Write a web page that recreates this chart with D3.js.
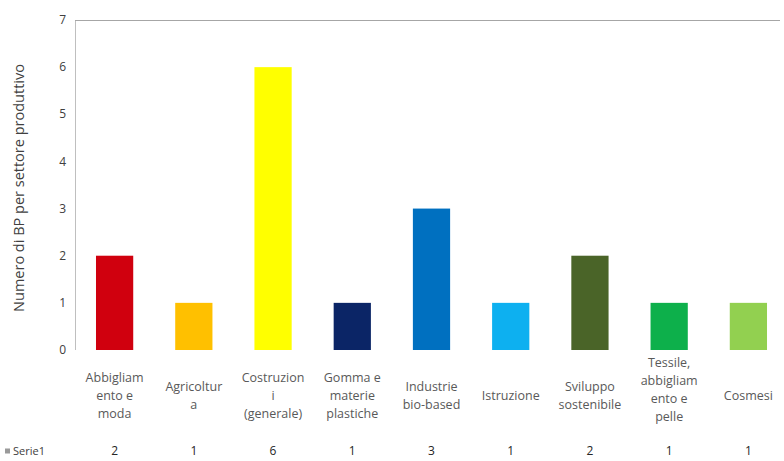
<!DOCTYPE html>
<html><head><meta charset="utf-8">
<script src="https://cdn.jsdelivr.net/npm/d3@7"></script>
<style>body{margin:0;background:#fff}svg{display:block}text{font-family:"Open Sans","Liberation Sans",sans-serif}</style>
</head><body>
<svg id="c" width="784" height="461"></svg>
<script>
const categories = [
  ["Abbigliam","ento e","moda"],
  ["Agricoltur","a"],
  ["Costruzion","i","(generale)"],
  ["Gomma e","materie","plastiche"],
  ["Industrie","bio-based"],
  ["Istruzione"],
  ["Sviluppo","sostenibile"],
  ["Tessile,","abbigliam","ento e","pelle"],
  ["Cosmesi"]
];
const values = [2, 1, 6, 1, 3, 1, 2, 1, 1];
const colors = ["#D0000E","#FFC000","#FFFF00","#0B2566","#0070C0","#0DB0F0","#4A6428","#0DB04B","#92D050"];
const yTicks = [0,1,2,3,4,5,6,7];
const seriesName = "Serie1";
const yTitle = "Numero di BP per settore produttivo";

const svg = d3.select("#c");
const x = d3.scaleBand().domain(d3.range(values.length)).range([75, 788]).paddingInner(0.53).paddingOuter(0.265);
const y = d3.scaleLinear().domain([0, 7]).range([350, 20]);

// axes lines
svg.append("line").attr("x1",75.5).attr("x2",75.5).attr("y1",y(7)).attr("y2",y(0)).attr("stroke","#bfbfbf");
svg.append("line").attr("x1",75).attr("x2",780).attr("y1",y(7)+0.5).attr("y2",y(7)+0.5).attr("stroke","#a6a6a6");

// y tick labels
svg.append("g").selectAll("text").data(yTicks).join("text")
  .attr("x",66).attr("y",d=>y(d)).attr("dy","0.35em").attr("text-anchor","end")
  .attr("font-size",12).attr("fill","#404040").text(d=>d);

// y title
svg.append("text").attr("transform",`translate(24,${188}) rotate(-90)`)
  .attr("text-anchor","middle").attr("font-size",14.5).attr("fill","#404040").text(yTitle);

// bars
svg.append("g").selectAll("rect").data(values).join("rect")
  .attr("x",(d,i)=>x(i)).attr("width",x.bandwidth())
  .attr("y",d=>y(d)).attr("height",d=>y(0)-y(d))
  .attr("fill",(d,i)=>colors[i]);

// category labels
const catG = svg.append("g");
categories.forEach((lines,i)=>{
  const n = lines.length;
  const lh = 18;
  const cy = 396 - (n===4 ? 6 : 0);
  const t = catG.append("text").attr("text-anchor","middle").attr("font-size",12.5).attr("fill","#595959");
  lines.forEach((l,j)=>{
    t.append("tspan").attr("x",x(i)+x.bandwidth()/2)
      .attr("y",cy + (j-(n-1)/2)*lh).attr("dy","0.35em").text(l);
  });
});

// data table row
const rowY = 451;
svg.append("rect").attr("x",5).attr("y",rowY-2.5).attr("width",5).attr("height",5).attr("fill","#9a9a9a");
svg.append("text").attr("x",13).attr("y",rowY).attr("dy","0.35em").attr("font-size",11).attr("fill","#404040").text(seriesName);
svg.append("g").selectAll("text").data(values).join("text")
  .attr("x",(d,i)=>x(i)+x.bandwidth()/2).attr("y",rowY).attr("dy","0.35em")
  .attr("text-anchor","middle").attr("font-size",12).attr("fill","#262626").text(d=>d);
</script>
</body></html>
